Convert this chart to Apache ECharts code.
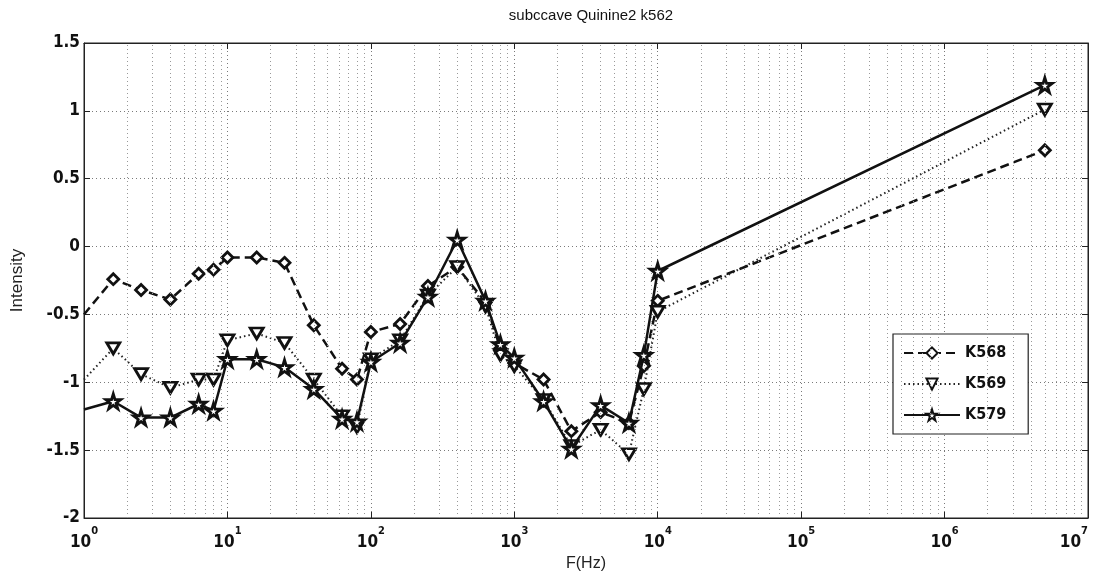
<!DOCTYPE html>
<html>
<head>
<meta charset="utf-8">
<script src="https://cdn.jsdelivr.net/npm/echarts@6/dist/echarts.min.js"></script>
<style>html,body{margin:0;padding:0;background:#fff}#c{width:1098px;height:571px}</style>
</head>
<body>
<div id="c"></div>
<script>
const freq = [1, 1.6, 2.5, 4, 6.3, 8, 10, 16, 25, 40, 63, 80, 100, 160, 250, 400, 630, 800, 1000, 1600, 2500, 4000, 6300, 8000, 10000, 5000000];
const K568 = [-0.5, -0.24, -0.32, -0.39, -0.20, -0.17, -0.08, -0.08, -0.12, -0.58, -0.90, -0.98, -0.63, -0.57, -0.29, -0.15, -0.41, -0.75, -0.86, -0.98, -1.36, -1.22, -1.30, -0.88, -0.40, 0.71];
const K569 = [-0.98, -0.75, -0.94, -1.04, -0.98, -0.98, -0.69, -0.64, -0.71, -0.98, -1.25, -1.33, -0.83, -0.69, -0.36, -0.15, -0.44, -0.80, -0.88, -1.13, -1.47, -1.35, -1.53, -1.05, -0.48, 1.01];
const K579 = [-1.20, -1.14, -1.26, -1.26, -1.16, -1.21, -0.83, -0.83, -0.89, -1.05, -1.27, -1.29, -0.85, -0.71, -0.37, 0.05, -0.40, -0.72, -0.82, -1.14, -1.49, -1.17, -1.30, -0.80, -0.18, 1.19];
const seriesNames = ['K568', 'K569', 'K579'];
const yTicks = [-2, -1.5, -1, -0.5, 0, 0.5, 1, 1.5];

const STAR = 'path://M50,0 L61,35 L98,35 L68,57 L79,91 L50,70 L21,91 L32,57 L2,35 L39,35 Z';
const TRI_DOWN = 'path://M0,0 L100,0 L50,87 Z';

function pts(vals) {
  return freq.map((f, i) => i === 0 ? { value: [f, vals[i]], symbol: 'none' } : [f, vals[i]]);
}

// minor grid positions (2..9 x 10^k)
const minorGrid = [];
for (let k = 0; k < 7; k++) for (let m = 2; m <= 9; m++) minorGrid.push({ xAxis: m * Math.pow(10, k) });

const labelFont = 'Liberation Sans Narrow, DejaVu Sans Condensed, sans-serif';
const chart = echarts.init(document.getElementById('c'), null, { renderer: 'canvas' });
const gridLine = { show: true, lineStyle: { color: '#7a7a7a', type: [1, 3], width: 1 } };

chart.setOption({
  animation: false,
  backgroundColor: '#fff',
  title: {
    text: 'subccave Quinine2 k562',
    left: 586, top: 3, textAlign: 'center',
    textStyle: { fontFamily: 'Liberation Sans, sans-serif', fontSize: 15, fontWeight: 'normal', color: '#111' }
  },
  grid: { left: 84, right: 10, top: 43, bottom: 53, show: true, borderColor: '#222', borderWidth: 1, backgroundColor: '#fff', outerBoundsMode: 'none', containLabel: false },
  legend: {
    orient: 'vertical', left: 893, top: 334,
    backgroundColor: '#fff', borderColor: '#222', borderWidth: 1.2,
    padding: [11, 22, 11, 10], itemGap: 15, itemWidth: 56, itemHeight: 14,
    textStyle: { fontFamily: labelFont, fontWeight: 'bold', fontSize: 16, color: '#111' },
    data: seriesNames
  },
  xAxis: [{
    type: 'log', logBase: 10, min: 1, max: 10000000, interval: 1,
    name: 'F(Hz)', nameLocation: 'middle', nameGap: 30,
    nameTextStyle: { fontFamily: 'Liberation Sans, sans-serif', fontSize: 16, color: '#222' },
    axisLine: { onZero: false, lineStyle: { color: '#222', width: 1 } },
    axisTick: { inside: true, length: 6, lineStyle: { color: '#222' } },
    splitLine: gridLine,
    axisLabel: {
      margin: 8, alignMaxLabel: 'right',
      formatter: v => '{b|10}{s|' + Math.round(Math.log10(v)) + '}',
      rich: {
        b: { fontFamily: labelFont, fontWeight: 'bold', fontSize: 17, color: '#111', verticalAlign: 'bottom', padding: [8, 0, 0, 0] },
        s: { fontFamily: labelFont, fontWeight: 'bold', fontSize: 11, color: '#111', verticalAlign: 'top', padding: [0, 0, 8, 0] }
      }
    }
  }, {
    type: 'log', logBase: 10, min: 1, max: 10000000, interval: 1, position: 'top',
    axisLine: { onZero: false, lineStyle: { color: '#222' } }, axisTick: { inside: true, length: 6, lineStyle: { color: '#222' } },
    axisLabel: { show: false }, splitLine: { show: false }
  }],
  yAxis: [{
    type: 'value', min: -2, max: 1.5, interval: 0.5,
    name: 'Intensity', nameLocation: 'middle', nameGap: 58,
    nameTextStyle: { fontFamily: 'Liberation Sans, sans-serif', fontSize: 17, color: '#222' },
    axisLine: { show: true, onZero: false, lineStyle: { color: '#222', width: 1 } },
    axisTick: { show: true, inside: true, length: 6, lineStyle: { color: '#222' } },
    splitLine: gridLine,
    axisLabel: { fontFamily: labelFont, fontWeight: 'bold', fontSize: 17, color: '#111', margin: 4,
      formatter: v => String(v) }
  }, {
    type: 'value', min: -2, max: 1.5, interval: 0.5, position: 'right',
    axisLine: { show: true, onZero: false, lineStyle: { color: '#222' } },
    axisTick: { show: true, inside: true, length: 6, lineStyle: { color: '#222' } },
    axisLabel: { show: false }, splitLine: { show: false }
  }],
  series: [
    {
      name: 'minor', type: 'line', data: [], silent: true,
      markLine: { silent: true, symbol: 'none', label: { show: false },
        lineStyle: { color: '#999', type: [1, 3], width: 1 }, data: minorGrid }
    },
    {
      name: 'K568', type: 'line', data: pts(K568), symbol: 'diamond', symbolSize: 11, z: 3,
      lineStyle: { color: '#111', width: 2.5, type: [9, 5] },
      itemStyle: { color: '#fff', borderColor: '#111', borderWidth: 2.8 }
    },
    {
      name: 'K569', type: 'line', data: pts(K569), symbol: TRI_DOWN, symbolSize: [13, 11], z: 4,
      lineStyle: { color: '#222', width: 2, type: [1.5, 3] },
      itemStyle: { color: '#fff', borderColor: '#111', borderWidth: 2.8 }
    },
    {
      name: 'K579', type: 'line', data: pts(K579), symbol: STAR, symbolSize: 15, z: 5,
      lineStyle: { color: '#111', width: 2.5, type: 'solid' },
      itemStyle: { color: '#fff', borderColor: '#111', borderWidth: 2.8 }
    }
  ]
});
</script>
</body>
</html>
